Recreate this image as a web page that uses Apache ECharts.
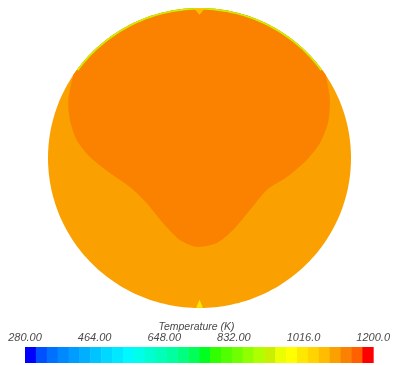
<!DOCTYPE html>
<html>
<head>
<meta charset="utf-8">
<script src="https://cdn.jsdelivr.net/npm/echarts@6/dist/echarts.min.js"></script>
<style>
  html, body { margin: 0; padding: 0; background: #ffffff; }
  #chart { width: 393px; height: 365px; }
</style>
</head>
<body>
<div id="chart"></div>
<script>
// Temperature scale of the legend bar
const tempMin = 280;
const tempMax = 1200;
const tickValues = [280, 464, 648, 832, 1016, 1200];
const tickLabels = ['280.00', '464.00', '648.00', '832.00', '1016.0', '1200.0'];

// Banded rainbow palette, low to high temperature
const bandColors = [
  '#0000ff', '#0050ff', '#0070ff', '#0088ff', '#009cff', '#00b0ff', '#00c4ff', '#00d8ff',
  '#00e8ff', '#00f8ff', '#00ffe8', '#00ffd0', '#00ffb8', '#00ffa0', '#00ff80', '#00ff58',
  '#00ff20', '#30ff00', '#50ff00', '#70ff00', '#90ff00', '#b0ff00', '#c8f000', '#ecff00',
  '#ffff00', '#ffe800', '#ffd400', '#ffbc00', '#faa000', '#fa8200', '#ff6000', '#ff0000'
];

// Zones of the cross-section and their temperatures (K)
const zoneNames = ['bulk', 'core', 'wallRim', 'topNotch', 'bottomSpike'];
const zoneTemps = [1095, 1125, 930, 1070, 1010];

// Hot core outline in section coordinates (radius 1), lower edge from left wall to right wall
const coreOutline = [
  [-0.833, 0.553], [-0.866, 0.387], [-0.855, 0.253], [-0.811, 0.120], [-0.723, 0.007],
  [-0.591, -0.100], [-0.459, -0.193], [-0.349, -0.300], [-0.241, -0.433], [-0.129, -0.547],
  [-0.018, -0.593], [0.114, -0.567], [0.221, -0.480], [0.333, -0.347], [0.444, -0.213],
  [0.576, -0.127], [0.708, -0.013], [0.795, 0.100], [0.848, 0.233], [0.861, 0.387],
  [0.840, 0.520], [0.833, 0.553]
];
// Cooler film along the upper wall: start/end angle (deg) and inner radius
const rimAngles = [36, 144];
const rimInner = 0.989;
// Small cool spots at the top and bottom of the wall
const topNotch = [[-0.035, 0.996], [0.035, 0.996], [0, 0.955]];
const bottomSpike = [[-0.022, -0.998], [0.022, -0.998], [0, -0.945]];

function colorFor(t) {
  const n = bandColors.length;
  let k = Math.floor((t - tempMin) / (tempMax - tempMin) * n);
  k = Math.max(0, Math.min(n - 1, k));
  return bandColors[k];
}

function arc(r, a0, a1, steps) {
  const pts = [];
  for (let s = 0; s <= steps; s++) {
    const a = (a0 + (a1 - a0) * s / steps) * Math.PI / 180;
    pts.push([r * Math.cos(a), r * Math.sin(a)]);
  }
  return pts;
}

function zoneShape(i) {
  const name = zoneNames[i];
  if (name === 'bulk') return arc(1, 0, 360, 240);
  if (name === 'core') {
    const first = coreOutline[0], last = coreOutline[coreOutline.length - 1];
    const aEnd = Math.atan2(last[1], last[0]) * 180 / Math.PI;
    const aStart = Math.atan2(first[1], first[0]) * 180 / Math.PI;
    return coreOutline.concat(arc(1, aEnd, aStart, 80).slice(1, -1));
  }
  if (name === 'wallRim') {
    return arc(1, rimAngles[0], rimAngles[1], 80)
      .concat(arc(rimInner, rimAngles[1], rimAngles[0], 80));
  }
  if (name === 'topNotch') return topNotch;
  return bottomSpike;
}

const bandWidth = (tempMax - tempMin) / bandColors.length;
const bandData = bandColors.map((c, i) => [tempMin + i * bandWidth, tempMin + (i + 1) * bandWidth, i]);

const labelFont = "'Liberation Sans Narrow', 'Liberation Sans', Arial, sans-serif";

const chart = echarts.init(document.getElementById('chart'), null, { renderer: 'canvas' });
chart.setOption({
  animation: false,
  backgroundColor: '#ffffff',
  title: {
    text: 'Temperature (K)',
    left: 'center',
    top: 317,
    textStyle: {
      fontFamily: "'Liberation Sans', Arial, sans-serif",
      fontStyle: 'italic',
      fontWeight: 'normal',
      fontSize: 10.5,
      color: '#4a4a4a'
    }
  },
  grid: [
    { left: 48, top: 8, width: 303, height: 300 },
    { left: 25, top: 347, width: 349, height: 16 }
  ],
  xAxis: [
    { gridIndex: 0, type: 'value', min: -1, max: 1, show: false },
    {
      gridIndex: 1, type: 'value', min: tempMin, max: tempMax, position: 'top',
      axisLine: { show: false }, axisTick: { show: false }, splitLine: { show: false },
      axisLabel: {
        customValues: tickValues,
        margin: 4,
        formatter: v => tickLabels[tickValues.indexOf(v)],
        fontFamily: labelFont,
        fontStyle: 'italic',
        fontSize: 11,
        color: '#4a4a4a'
      }
    }
  ],
  yAxis: [
    { gridIndex: 0, type: 'value', min: -1, max: 1, show: false },
    { gridIndex: 1, type: 'value', min: 0, max: 1, show: false }
  ],
  series: [
    {
      type: 'custom',
      xAxisIndex: 0,
      yAxisIndex: 0,
      silent: true,
      data: zoneTemps.map((t, i) => [0, 0, i, t]),
      renderItem: (params, api) => {
        const i = api.value(2);
        const t = api.value(3);
        const pts = zoneShape(i).map(p => api.coord(p));
        return {
          type: 'polygon',
          shape: { points: pts, smooth: zoneNames[i] === 'core' ? 0.25 : 0 },
          style: { fill: colorFor(t) }
        };
      }
    },
    {
      type: 'custom',
      xAxisIndex: 1,
      yAxisIndex: 1,
      silent: true,
      encode: { x: [0, 1] },
      data: bandData,
      renderItem: (params, api) => {
        const p0 = api.coord([api.value(0), 1]);
        const p1 = api.coord([api.value(1), 0]);
        return {
          type: 'rect',
          shape: { x: p0[0], y: p0[1], width: p1[0] - p0[0] + 0.5, height: p1[1] - p0[1] },
          style: { fill: bandColors[api.value(2)] }
        };
      }
    }
  ]
});
</script>
</body>
</html>
